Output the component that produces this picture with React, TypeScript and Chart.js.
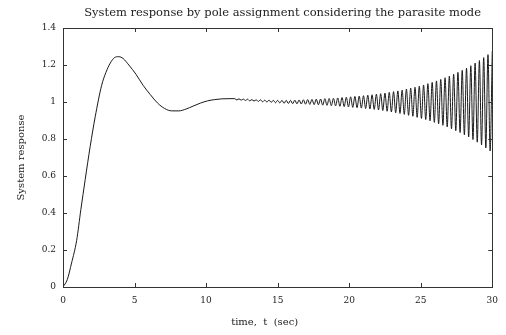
import React, { useEffect, useRef } from "react";
import { Chart, registerables } from "chart.js";

Chart.register(...registerables);

const TITLE = "System response by pole assignment considering the parasite mode";
const X_LABEL = "time,  t  (sec)";
const Y_LABEL = "System response";

const xTicks = [0, 5, 10, 15, 20, 25, 30];
const yTicks = [0, 0.2, 0.4, 0.6, 0.8, 1, 1.2, 1.4];

// transient part of the response
const riseTimes = [0, 0.3, 0.6, 0.95, 1.25, 1.55, 1.9, 2.25, 2.7, 3.0, 3.3, 3.6, 3.9, 4.2, 4.6, 5.1, 5.6, 6.1, 6.6, 7.1, 7.6, 8.1, 8.6, 9.1, 9.6, 10.1, 10.6, 11.1, 11.6];
const riseValues = [0, 0.04, 0.13, 0.25, 0.42, 0.58, 0.76, 0.92, 1.09, 1.16, 1.21, 1.24, 1.245, 1.235, 1.2, 1.15, 1.09, 1.04, 0.995, 0.965, 0.952, 0.952, 0.962, 0.978, 0.994, 1.006, 1.013, 1.017, 1.018];

// growing parasite-mode oscillation (peaks and troughs)
const oscTimes = [
  12.0, 12.15, 12.3, 12.45, 12.6, 12.75, 12.9, 13.05, 13.2, 13.35, 13.5, 13.65, 13.8, 13.95, 14.1, 14.25, 14.4, 14.55, 14.7, 14.85,
  15.0, 15.15, 15.3, 15.45, 15.6, 15.75, 15.9, 16.05, 16.2, 16.35, 16.5, 16.65, 16.8, 16.95, 17.1, 17.25, 17.4, 17.55, 17.7, 17.85,
  18.0, 18.15, 18.3, 18.45, 18.6, 18.75, 18.9, 19.05, 19.2, 19.35, 19.5, 19.65, 19.8, 19.95, 20.1, 20.25, 20.4, 20.55, 20.7, 20.85,
  21.0, 21.15, 21.3, 21.45, 21.6, 21.75, 21.9, 22.05, 22.2, 22.35, 22.5, 22.65, 22.8, 22.95, 23.1, 23.25, 23.4, 23.55, 23.7, 23.85,
  24.0, 24.15, 24.3, 24.45, 24.6, 24.75, 24.9, 25.05, 25.2, 25.35, 25.5, 25.65, 25.8, 25.95, 26.1, 26.25, 26.4, 26.55, 26.7, 26.85,
  27.0, 27.15, 27.3, 27.45, 27.6, 27.75, 27.9, 28.05, 28.2, 28.35, 28.5, 28.65, 28.8, 28.95, 29.1, 29.25, 29.4, 29.55, 29.7, 29.85,
  30.0,
];
const oscValues = [
  1.018, 1.011, 1.017, 1.01, 1.016, 1.008, 1.015, 1.006, 1.013, 1.005, 1.012, 1.003, 1.012, 1.001, 1.01, 1.0, 1.01, 0.998, 1.009, 0.996,
  1.009, 0.995, 1.009, 0.993, 1.009, 0.992, 1.009, 0.991, 1.01, 0.99, 1.011, 0.989, 1.012, 0.988, 1.013, 0.987, 1.014, 0.986, 1.015, 0.985,
  1.016, 0.983, 1.018, 0.982, 1.019, 0.98, 1.02, 0.979, 1.022, 0.977, 1.024, 0.975, 1.026, 0.973, 1.028, 0.971, 1.03, 0.969, 1.032, 0.967,
  1.034, 0.965, 1.037, 0.962, 1.039, 0.96, 1.042, 0.957, 1.045, 0.954, 1.048, 0.95, 1.052, 0.946, 1.056, 0.942, 1.06, 0.938, 1.064, 0.933,
  1.07, 0.928, 1.075, 0.923, 1.08, 0.917, 1.086, 0.911, 1.092, 0.905, 1.099, 0.898, 1.106, 0.89, 1.114, 0.882, 1.122, 0.874, 1.131, 0.865,
  1.14, 0.855, 1.15, 0.845, 1.16, 0.835, 1.171, 0.823, 1.183, 0.811, 1.196, 0.797, 1.21, 0.783, 1.224, 0.768, 1.24, 0.752, 1.256, 0.735,
  1.275,
];

const SERIF = "'DejaVu Serif', 'Liberation Serif', serif";

const framePlugin = {
  id: "frame",
  afterDraw(chart: any) {
    const { ctx, chartArea } = chart;
    const { left, right, top, bottom } = chartArea;
    const xs = chart.scales.x;
    const ys = chart.scales.y;
    ctx.save();
    ctx.strokeStyle = "#333";
    ctx.lineWidth = 1;
    ctx.strokeRect(Math.round(left) + 0.5, Math.round(top) + 0.5, Math.round(right - left), Math.round(bottom - top));
    ctx.beginPath();
    for (const v of yTicks) {
      const py = Math.round(ys.getPixelForValue(v)) + 0.5;
      ctx.moveTo(left, py);
      ctx.lineTo(left + 4, py);
      ctx.moveTo(right, py);
      ctx.lineTo(right - 4, py);
    }
    for (const v of xTicks) {
      const px = Math.round(xs.getPixelForValue(v)) + 0.5;
      ctx.moveTo(px, bottom);
      ctx.lineTo(px, bottom - 4);
      ctx.moveTo(px, top);
      ctx.lineTo(px, top + 4);
    }
    ctx.stroke();

    ctx.fillStyle = "#222";
    ctx.textAlign = "center";
    ctx.textBaseline = "middle";
    ctx.font = `11.5px ${SERIF}`;
    ctx.fillText(TITLE, (left + right) / 2 + 5, 13);
    ctx.font = `10px ${SERIF}`;
    ctx.fillText(X_LABEL, (left + right) / 2 - 13, 322);
    ctx.translate(21, (top + bottom) / 2);
    ctx.rotate(-Math.PI / 2);
    ctx.fillText(Y_LABEL, 0, 0);
    ctx.restore();
  },
};

export default function App() {
  const ref = useRef<HTMLCanvasElement | null>(null);
  useEffect(() => {
    if (!ref.current) return;
    const data = [
      ...riseTimes.map((t, i) => ({ x: t, y: riseValues[i] })),
      ...oscTimes.map((t, i) => ({ x: t, y: oscValues[i] })),
    ];
    const chart = new Chart(ref.current, {
      type: "line",
      data: {
        datasets: [
          {
            data,
            borderColor: "#1a1a1a",
            borderWidth: 1,
            pointRadius: 0,
            fill: false,
            cubicInterpolationMode: "monotone",
          },
        ],
      },
      options: {
        animation: false,
        responsive: false,
        devicePixelRatio: 1,
        layout: { padding: { left: 10, top: 28, right: 13, bottom: 0 } },
        plugins: { legend: { display: false }, title: { display: false }, tooltip: { enabled: false } },
        scales: {
          x: {
            type: "linear",
            min: 0,
            max: 30,
            grid: { display: false, drawTicks: false },
            border: { display: false },
            afterBuildTicks: (s: any) => {
              s.ticks = xTicks.map((v) => ({ value: v }));
            },
            afterFit: (s: any) => {
              s.height = 48;
            },
            ticks: {
              padding: 8,
              color: "#222",
              font: { family: SERIF, size: 9 },
              maxRotation: 0,
              callback: (v: any) => String(v),
            },
          },
          y: {
            type: "linear",
            min: 0,
            max: 1.4,
            grid: { display: false, drawTicks: false },
            border: { display: false },
            afterBuildTicks: (s: any) => {
              s.ticks = yTicks.map((v) => ({ value: v }));
            },
            afterFit: (s: any) => {
              s.width = 53;
            },
            ticks: {
              padding: 7,
              color: "#222",
              font: { family: SERIF, size: 9 },
              callback: (v: any) => String(Math.round(Number(v) * 10) / 10),
            },
          },
        },
      },
      plugins: [framePlugin],
    });
    return () => chart.destroy();
  }, []);
  return (
    <div style={{ position: "absolute", left: 0, top: 0, width: 506, height: 335, background: "#fff" }}>
      <canvas ref={ref} width={506} height={335} style={{ width: 506, height: 335, display: "block" }} />
    </div>
  );
}
